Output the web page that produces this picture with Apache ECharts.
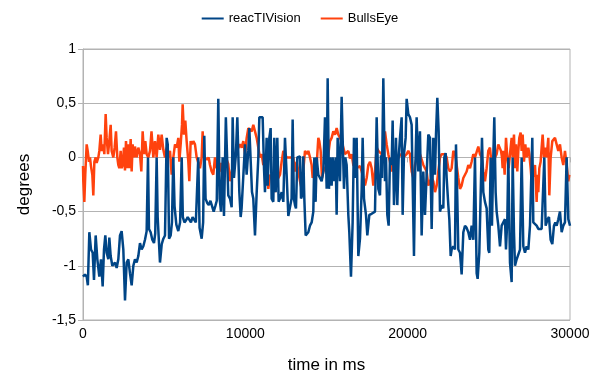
<!DOCTYPE html>
<html>
<head>
<meta charset="utf-8">
<script src="https://cdn.jsdelivr.net/npm/echarts@6/dist/echarts.min.js"></script>
<style>
  html, body { margin: 0; padding: 0; background: #fff; }
  #chart { width: 600px; height: 375px; }
</style>
</head>
<body>
<div id="chart"></div>
<script>
// legend / series names
var seriesNames = ['reacTIVision', 'BullsEye'];

// y axis ticks (degrees) and x axis ticks (ms)
var yTicks = [-1.5, -1, -0.5, 0, 0.5, 1];
var xTicks = [0, 10000, 20000, 30000];

// [time in ms, degrees]
var reacTIVision = [
  [0,-1.1],[120,-1.08],[226,-1.1],[300,-1.18],[390,-0.69],[493,-0.85],[595,-0.88],[677,-1.13],
  [780,-0.72],[883,-0.94],[1006,-1.1],[1108,-0.94],[1211,-1.19],[1293,-0.85],[1375,-0.72],[1457,-0.88],
  [1560,-0.94],[1622,-0.74],[1704,-0.91],[1806,-1.0],[1971,-0.97],[2073,-1.02],[2176,-0.94],[2279,-0.72],
  [2381,-0.68],[2484,-0.85],[2587,-1.32],[2689,-0.97],[2792,-0.94],[2895,-1.07],[2997,-1.18],[3100,-1.0],
  [3202,-0.94],[3305,-0.97],[3408,-0.91],[3510,-0.79],[3613,-0.85],[3716,-0.82],[3818,-0.76],[3921,-0.68],
  [4003,0],[4065,-0.66],[4167,-0.69],[4270,-0.76],[4373,-0.79],[4450,-0.7],[4537,0],[4600,-0.55],
  [4742,-0.97],[4850,-0.8],[4950,-0.75],[5050,-0.72],[5153,0.18],[5220,0.12],[5300,-0.75],[5400,-0.72],
  [5480,-0.6],[5562,0],[5640,-0.45],[5750,-0.62],[5870,-0.68],[5980,-0.6],[6080,0],[6150,-0.55],
  [6250,-0.6],[6350,-0.58],[6450,-0.55],[6550,-0.56],[6650,-0.6],[6750,-0.55],[6850,-0.56],[6950,-0.6],
  [7102,0],[7180,-0.65],[7310,-0.75],[7400,-0.6],[7472,0.2],[7550,-0.38],[7650,-0.42],[7750,-0.44],
  [7850,-0.4],[7950,-0.45],[8050,-0.5],[8150,-0.45],[8240,-0.4],[8334,0.54],[8420,-0.38],[8500,-0.5],
  [8603,0],[8685,-0.54],[8800,0.37],[8950,-0.35],[9055,-0.38],[9157,-0.46],[9219,0.37],[9300,-0.19],
  [9420,0.03],[9507,0.37],[9630,-0.32],[9712,-0.55],[9770,-0.47],[9880,-0.16],[9980,0.12],[10080,-0.16],
  [10180,0.06],[10245,0.27],[10330,0.27],[10410,-0.32],[10490,-0.38],[10595,-0.72],[10700,-0.32],[10800,0],
  [10862,0.37],[10944,0.37],[11067,0.37],[11150,-0.1],[11210,-0.32],[11313,0.18],[11375,-0.26],[11478,0.18],
  [11559,0.27],[11621,-0.38],[11724,-0.41],[11785,0.18],[11868,-0.32],[11970,0.18],[12052,-0.41],[12135,-0.38],
  [12237,-0.32],[12340,-0.41],[12442,0.18],[12545,-0.16],[12648,-0.54],[12750,-0.55],[12850,-0.38],[12915,0.35],
  [12990,-0.38],[13060,-0.44],[13120,-0.47],[13203,0],[13264,0.01],[13367,0.01],[13430,-0.38],[13510,-0.35],
  [13572,0.01],[13634,-0.38],[13716,-0.72],[13820,-0.72],[13880,-0.69],[13980,-0.63],[14085,-0.6],[14188,-0.5],
  [14250,0],[14330,-0.41],[14394,0],[14496,-0.16],[14600,-0.19],[14701,-0.22],[14804,-0.13],[14907,0.37],
  [15010,-0.29],[15071,0.73],[15153,-0.29],[15215,0],[15317,-0.26],[15379,0],[15461,-0.22],[15564,0],
  [15625,-0.53],[15687,0.18],[15769,0.18],[15830,-0.22],[15933,0.56],[15994,0.18],[16077,-0.29],[16159,0],
  [16241,-0.07],[16344,-0.53],[16405,-0.69],[16508,-1.1],[16610,-0.6],[16693,0.18],[16775,-0.19],[16857,0.18],
  [16960,-0.91],[17063,-0.75],[17166,-0.3],[17227,0.18],[17310,-0.38],[17432,-0.53],[17515,-0.72],[17638,-0.53],
  [17780,-0.52],[17987,-0.5],[18090,0.37],[18192,-0.29],[18295,-0.35],[18357,0.02],[18418,-0.19],[18500,0.73],
  [18603,-0.22],[18664,0],[18746,-0.53],[18828,-0.63],[18910,0],[19013,-0.07],[19075,0.34],[19157,-0.44],
  [19219,-0.19],[19280,0.18],[19362,-0.44],[19445,0],[19527,0.18],[19629,0.37],[19691,-0.53],[19773,0.03],
  [19876,0.18],[19937,0.54],[20040,0.4],[20142,0.37],[20245,0.3],[20306,-0.22],[20389,-0.91],[20450,-0.22],
  [20553,0.37],[20656,-0.13],[20758,0.24],[20861,-0.72],[20964,-0.13],[21066,-0.53],[21169,-0.53],[21272,0.21],
  [21375,0.18],[21478,-0.66],[21580,0.18],[21683,-0.16],[21745,0.21],[21827,0.55],[21909,0.24],[21991,-0.5],
  [22093,-0.44],[22196,-0.47],[22258,0],[22340,0.04],[22402,-0.19],[22504,-0.44],[22566,-0.57],[22648,-0.91],
  [22710,-0.85],[22812,-0.82],[22915,-0.85],[22976,0.12],[23058,-0.38],[23120,-0.85],[23223,-0.88],[23325,-1.08],
  [23428,-0.69],[23531,-0.63],[23633,-0.65],[23736,-0.69],[23839,-0.76],[23941,-0.63],[24044,-0.76],[24147,0],
  [24250,-1.07],[24311,-1.12],[24414,-0.88],[24496,-0.88],[24578,0.18],[24660,-0.32],[24762,-0.41],[24865,-0.47],
  [24967,-0.85],[25029,-0.88],[25111,0],[25193,-0.63],[25275,0],[25337,0.37],[25419,-0.32],[25481,-0.5],
  [25584,-0.63],[25687,-0.82],[25790,-0.63],[25892,-0.63],[25995,-0.57],[26057,-0.85],[26139,-0.57],[26200,0],
  [26303,-0.97],[26406,-1.15],[26467,0],[26549,-0.69],[26611,-1.0],[26714,-0.94],[26816,-0.94],[26919,-0.85],
  [27022,0],[27124,-0.82],[27227,-0.88],[27330,-0.82],[27432,-0.85],[27535,-0.63],[27678,0.18],[27740,-0.6],
  [27843,-0.6],[27945,-0.63],[28048,-0.66],[28151,-0.65],[28253,-0.66],[28356,-0.66],[28418,0],[28500,-0.63],
  [28623,-0.57],[28705,-0.55],[28808,-0.76],[28910,-0.8],[29013,-0.63],[29095,-0.6],[29177,-0.63],[29280,-0.57],
  [29382,-0.5],[29485,-0.69],[29587,-0.63],[29690,-0.6],[29793,0],[29896,-0.57],[30000,-0.63]
];

var bullsEye = [
  [0,-0.08],[20,-0.22],[82,-0.41],[140,-0.16],[226,0.12],[290,0.06],[370,-0.04],[430,0],
  [490,-0.08],[575,-0.16],[636,-0.35],[700,-0.04],[780,0],[840,-0.05],[945,0],[1006,0.06],
  [1088,0.21],[1150,0.06],[1252,0.12],[1314,0.03],[1396,0.4],[1457,0.18],[1540,0.03],[1622,0.15],
  [1704,0.3],[1765,0.06],[1868,0],[1950,0.09],[2032,0.24],[2114,0],[2176,-0.07],[2238,-0.1],
  [2320,0.06],[2381,-0.1],[2443,-0.07],[2525,0.09],[2587,-0.12],[2648,0.15],[2730,-0.1],[2792,0.12],
  [2853,-0.1],[2936,0.17],[2997,-0.13],[3059,0.12],[3141,0],[3202,0.1],[3305,0],[3408,0.09],
  [3510,0.03],[3593,-0.13],[3675,0.24],[3757,0.03],[3839,0.15],[3921,0.03],[4024,0],[4127,0.06],
  [4220,0.24],[4332,0],[4435,0.15],[4537,0],[4640,0.21],[4743,0.07],[4846,0.21],[4948,0.07],
  [5051,0],[5153,0.09],[5256,0],[5359,0.06],[5461,-0.16],[5564,0],[5667,0.12],[5769,0.09],
  [5872,0.18],[5934,-0.04],[6016,0.12],[6098,0.3],[6139,0.49],[6221,0.21],[6303,0.34],[6385,0.15],
  [6488,-0.04],[6550,-0.22],[6632,0.15],[6714,0.12],[6796,0.15],[6899,0.12],[7001,0],[7104,0],
  [7206,-0.1],[7309,0],[7371,0.24],[7453,0],[7576,0],[7658,-0.02],[7740,0],[7822,-0.07],
  [7925,-0.13],[8027,-0.16],[8130,0],[8233,-0.1],[8335,0],[8438,-0.13],[8500,-0.05],[8600,-0.19],
  [8700,-0.1],[8800,0],[8950,-0.06],[9055,-0.22],[9200,-0.1],[9363,0.03],[9466,0.06],[9670,0.12],
  [9776,0.09],[9877,0.15],[9980,0.03],[10082,0.18],[10184,0.27],[10390,0.24],[10492,0.3],[10595,0.3],
  [10697,0.18],[10900,0],[11005,0.03],[11108,-0.07],[11313,0],[11416,-0.29],[11519,-0.16],[11724,-0.22],
  [11827,-0.32],[11930,-0.22],[12135,-0.16],[12237,-0.04],[12340,0.06],[12545,0],[12750,0],[12955,0],
  [13059,-0.13],[13162,-0.04],[13367,-0.22],[13470,-0.29],[13676,0.06],[13736,0.07],[13818,0.03],[13880,0.06],
  [13983,0],[14085,-0.07],[14147,-0.19],[14229,-0.1],[14394,-0.07],[14496,0.18],[14558,0.15],[14640,0.06],
  [14722,-0.19],[14804,-0.13],[15010,-0.07],[15113,0.03],[15215,0.15],[15318,0.18],[15420,0.24],[15523,0.21],
  [15625,0.27],[15728,0.21],[15830,0.21],[15933,0.15],[16036,0.09],[16139,0.03],[16241,0.03],[16344,0.06],
  [16446,-0.01],[16549,0.03],[16651,-0.07],[16857,-0.1],[17063,-0.08],[17166,-0.13],[17268,-0.19],[17371,-0.26],
  [17474,-0.19],[17576,-0.07],[17679,-0.04],[17782,-0.1],[17884,-0.26],[17987,-0.13],[18090,0.09],[18192,0.06],
  [18295,0.07],[18398,0.03],[18500,-0.04],[18603,0.24],[18706,0.12],[18808,0.03],[18911,-0.04],[19013,-0.13],
  [19116,-0.07],[19321,-0.04],[19527,0.03],[19732,0],[19937,0.03],[20040,0.06],[20142,0.03],[20245,-0.13],
  [20348,-0.19],[20450,-0.07],[20553,0],[20758,0.03],[20964,-0.07],[21169,-0.13],[21272,-0.26],[21374,-0.22],
  [21477,-0.19],[21580,-0.22],[21683,-0.32],[21785,-0.26],[21888,-0.13],[21991,0],[22093,0.03],[22196,0.04],
  [22299,0.03],[22401,0],[22504,-0.1],[22607,-0.13],[22710,-0.1],[22812,0.06],[22915,0.04],[23017,-0.07],
  [23120,-0.19],[23223,-0.29],[23325,-0.26],[23428,-0.19],[23531,-0.16],[23633,-0.13],[23736,-0.07],[23839,-0.1],
  [23941,-0.04],[24044,0.03],[24147,0],[24250,0],[24352,0.1],[24455,0.03],[24557,0],[24660,-0.13],
  [24762,-0.22],[24865,-0.1],[24967,0.06],[25070,0.09],[25173,-0.07],[25275,-0.1],[25378,0],[25481,0.03],
  [25583,0.12],[25686,0.13],[25748,0.06],[25810,0],[25851,-0.1],[25892,0.06],[25974,-0.16],[26057,0.18],
  [26139,0],[26221,-0.1],[26303,0.03],[26406,0.18],[26467,0],[26549,0.21],[26611,-0.1],[26672,0.12],
  [26754,-0.13],[26816,0.06],[26878,0.18],[26960,0.23],[27022,0.06],[27083,0.21],[27165,-0.04],[27248,0.12],
  [27330,0],[27432,0.09],[27494,0.03],[27576,-0.1],[27637,-0.22],[27740,-0.16],[27843,-0.07],[27945,-0.41],
  [28007,-0.16],[28048,-0.32],[28110,-0.1],[28192,-0.04],[28253,0.09],[28315,0.21],[28397,0],[28459,0.09],
  [28561,0],[28664,0.18],[28726,-0.35],[28808,0],[28910,0.15],[28972,0.15],[29075,0.18],[29177,0.12],
  [29280,0.06],[29382,0.12],[29485,0],[29587,-0.07],[29690,0.06],[29793,-0.07],[29896,-0.22],[29958,-0.16]
];

var chart = echarts.init(document.getElementById('chart'), null, { renderer: 'canvas' });

var font = 'Liberation Sans, Arial, sans-serif';

var option = {
  animation: false,
  color: ['#004586', '#ff420e'],
  textStyle: { fontFamily: font },
  legend: {
    data: seriesNames,
    top: 7,
    left: 'center',
    icon: 'rect',
    itemWidth: 22,
    itemHeight: 2,
    itemGap: 20,
    textStyle: { fontSize: 13, color: '#000', fontFamily: font }
  },
  grid: {
    left: 83,
    right: 30,
    top: 49,
    bottom: 55,
    outerBoundsMode: 'none',
    show: true,
    borderColor: '#b3b3b3',
    borderWidth: 1
  },
  xAxis: {
    type: 'value',
    min: xTicks[0],
    max: xTicks[xTicks.length - 1],
    interval: 10000,
    name: 'time in ms',
    nameLocation: 'middle',
    nameGap: 37,
    nameTextStyle: { fontSize: 17, color: '#000', fontFamily: font },
    axisLine: { lineStyle: { color: '#b3b3b3' } },
    axisTick: { show: true, length: 5, lineStyle: { color: '#b3b3b3' } },
    axisLabel: {
      fontSize: 14,
      color: '#000',
      margin: 7,
      fontFamily: font,
      formatter: function (v) { return String(v); }
    },
    splitLine: { show: false }
  },
  yAxis: {
    type: 'value',
    min: yTicks[0],
    max: yTicks[yTicks.length - 1],
    interval: 0.5,
    name: 'degrees',
    nameLocation: 'middle',
    nameGap: 50,
    nameTextStyle: { fontSize: 17, color: '#000', fontFamily: font },
    axisLine: { show: true, lineStyle: { color: '#b3b3b3' } },
    axisTick: { show: true, length: 5, lineStyle: { color: '#b3b3b3' } },
    axisLabel: {
      fontSize: 14,
      color: '#000',
      margin: 7,
      fontFamily: font,
      formatter: function (v) { return String(v).replace('.', ','); }
    },
    splitLine: { show: true, lineStyle: { color: '#b3b3b3', width: 1 } }
  },
  series: [
    {
      name: seriesNames[0],
      type: 'line',
      data: reacTIVision,
      showSymbol: false,
      z: 3,
      lineStyle: { width: 2.5, color: '#004586' }
    },
    {
      name: seriesNames[1],
      type: 'line',
      data: bullsEye,
      showSymbol: false,
      z: 2,
      lineStyle: { width: 2.5, color: '#ff420e' }
    }
  ]
};

chart.setOption(option);
</script>
</body>
</html>
